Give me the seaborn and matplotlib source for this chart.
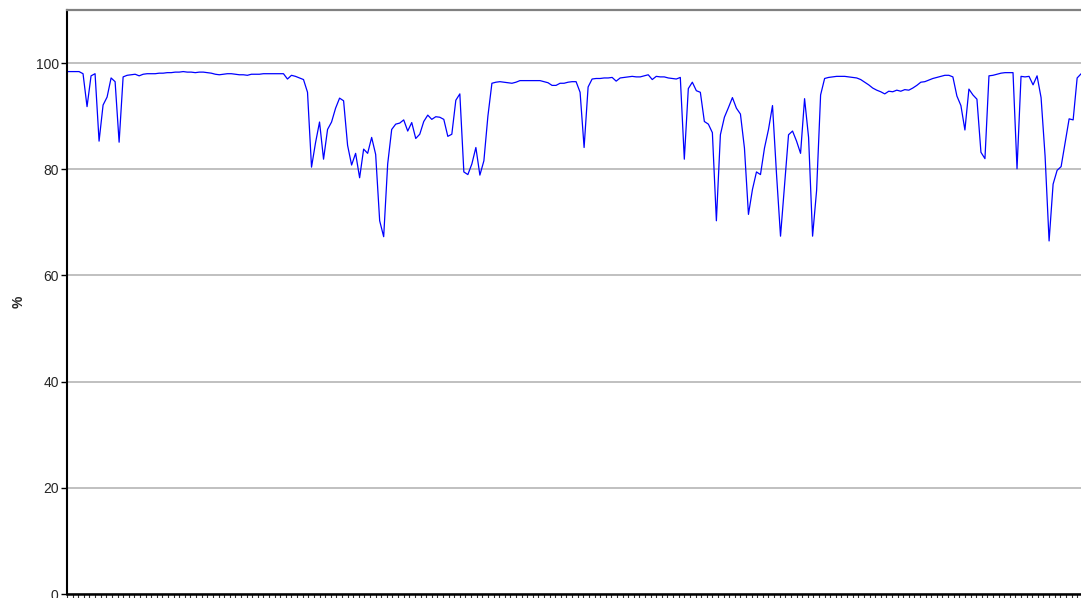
import numpy as np
import pandas as pd
import seaborn as sns
import matplotlib.pyplot as plt

# values, one every ~4 px along the x axis
pct = [
    98.4, 98.4, 98.4, 98.4, 98.0, 91.8, 97.6, 98.0, 85.3, 92.1,
    93.6, 97.2, 96.5, 85.1, 97.4, 97.7, 97.8, 97.9, 97.6, 97.9,
    98.0, 98.0, 98.0, 98.1, 98.1, 98.2, 98.2, 98.3, 98.3, 98.4,
    98.3, 98.3, 98.2, 98.3, 98.3, 98.2, 98.1, 97.9, 97.8, 97.9,
    98.0, 98.0, 97.9, 97.8, 97.8, 97.7, 97.9, 97.9, 97.9, 98.0,
    98.0, 98.0, 98.0, 98.0, 98.0, 97.0, 97.7, 97.5, 97.2, 96.9,
    94.5, 80.4, 85.0, 88.9, 81.9, 87.5, 88.9, 91.5, 93.4, 92.9,
    84.5, 80.8, 83.0, 78.4, 83.8, 83.0, 86.0, 82.8, 70.3, 67.3,
    81.0, 87.5, 88.5, 88.7, 89.3, 87.2, 88.8, 85.8, 86.6, 89.0,
    90.2, 89.4, 89.9, 89.8, 89.4, 86.2, 86.6, 93.0, 94.2, 79.5,
    79.0, 81.0, 84.1, 78.9, 81.6, 90.0, 96.2, 96.4, 96.5, 96.4,
    96.3, 96.2, 96.4, 96.7, 96.7, 96.7, 96.7, 96.7, 96.7, 96.5,
    96.3, 95.8, 95.8, 96.2, 96.2, 96.4, 96.5, 96.5, 94.5, 84.1,
    95.5, 97.0, 97.1, 97.1, 97.2, 97.2, 97.3, 96.6, 97.2, 97.3,
    97.4, 97.5, 97.4, 97.4, 97.6, 97.8, 96.9, 97.5, 97.4, 97.4,
    97.2, 97.1, 97.0, 97.3, 81.9, 95.2, 96.4, 94.8, 94.5, 89.0,
    88.5, 86.9, 70.3, 86.5, 89.8, 91.6, 93.5, 91.5, 90.4, 84.0,
    71.5, 76.2, 79.5, 79.0, 84.0, 87.5, 92.0, 79.1, 67.4, 77.0,
    86.5, 87.2, 85.3, 83.0, 93.3, 86.0, 67.4, 76.0, 94.0, 97.1,
    97.3, 97.4, 97.5, 97.5, 97.5, 97.4, 97.3, 97.2, 96.9, 96.4,
    95.9, 95.3, 94.9, 94.6, 94.2, 94.7, 94.6, 94.9, 94.7, 95.0,
    94.9, 95.3, 95.8, 96.4, 96.5, 96.8, 97.1, 97.3, 97.5, 97.7,
    97.7, 97.4, 93.8, 92.0, 87.4, 95.1, 94.0, 93.2, 83.2, 82.0,
    97.6, 97.7, 97.9, 98.1, 98.2, 98.2, 98.2, 80.1, 97.5, 97.4,
    97.5, 95.9, 97.6, 93.5, 82.5, 66.5, 77.2, 79.8, 80.5, 85.0,
    89.5, 89.3, 97.2, 98.0,
]
y_ticks = [0, 20, 40, 60, 80, 100]

df = pd.DataFrame({"idx": np.arange(len(pct)), "pct": pct})

sns.set_style("white")
plt.rcParams["font.family"] = ["Liberation Sans", "DejaVu Sans"]

fig = plt.figure(figsize=(10.81, 5.98), dpi=100)
ax = fig.add_axes([67 / 1081, 4 / 598, 1 - 67 / 1081 + 0.002, 584 / 598])

sns.lineplot(data=df, x="idx", y="pct", ax=ax, color="#0000ff", linewidth=0.9)

ax.set_xlim(0, (len(pct) - 1) + 0.5)
ax.set_ylim(0, 110)
ax.set_yticks(y_ticks)
ax.set_yticklabels([str(t) for t in y_ticks], fontsize=10)
ax.set_xticks(np.arange(0, len(pct), 1.4))
ax.set_xticklabels([])
ax.tick_params(axis="x", bottom=True, direction="out", length=3, width=0.8, color="#333333")
ax.tick_params(axis="y", left=True, direction="out", length=4, width=1, color="black", pad=2)

ax.yaxis.grid(True, color="#c0c0c0", linewidth=1.4)
ax.set_axisbelow(True)

ax.spines["left"].set_color("black")
ax.spines["left"].set_linewidth(1.5)
ax.spines["bottom"].set_color("black")
ax.spines["bottom"].set_linewidth(1.8)
ax.spines["top"].set_color("#808080")
ax.spines["top"].set_linewidth(1.6)
ax.spines["right"].set_visible(False)

ax.set_xlabel("")
ax.set_ylabel("%", fontsize=10, fontweight="bold", labelpad=7)

fig.savefig("out.png", dpi=100)
